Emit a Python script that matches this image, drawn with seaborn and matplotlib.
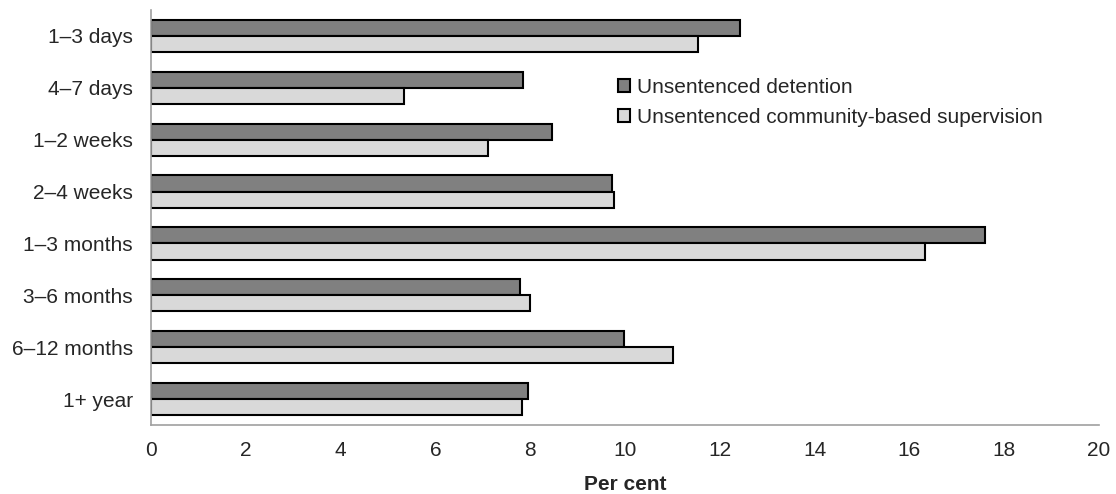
import pandas as pd
import numpy as np
import matplotlib.pyplot as plt
import seaborn as sns

categories = ["1–3 days", "4–7 days", "1–2 weeks", "2–4 weeks",
              "1–3 months", "3–6 months", "6–12 months", "1+ year"]
detention = [12.43, 7.84, 8.47, 9.73, 17.6, 7.78, 9.97, 7.95]
community = [11.54, 5.34, 7.11, 9.77, 16.33, 8.00, 11.02, 7.82]
series = ["Unsentenced detention", "Unsentenced community-based supervision"]

df = pd.DataFrame({
    "Duration": categories * 2,
    "Per cent": detention + community,
    "Group": [series[0]] * len(categories) + [series[1]] * len(categories),
})

sns.set_style("white")
plt.rcParams["font.family"] = ["Liberation Sans", "DejaVu Sans"]

fig = plt.figure(figsize=(11.16, 4.94), dpi=100)
ax = fig.add_axes([151 / 1116, 1 - 425 / 494, 948 / 1116, 415 / 494])

sns.barplot(data=df, y="Duration", x="Per cent", hue="Group", order=categories,
            hue_order=series, palette=["#808080", "#d9d9d9"], width=0.62,
            edgecolor="black", linewidth=1.5, orient="h", ax=ax)

ax.set_xlim(0, 20)
ax.set_ylim(7.5, -0.5)
ax.set_xticks(np.arange(0, 21, 2))
ax.set_xlabel("Per cent", fontsize=15, fontweight="bold", labelpad=11)
ax.set_ylabel("")
ax.tick_params(axis="x", labelsize=15, length=4.5, color="#a0a0a0", direction="out", pad=7)
ax.tick_params(axis="y", labelsize=15, length=0, pad=13)
for s in ["top", "right"]:
    ax.spines[s].set_visible(False)
for s in ["left", "bottom"]:
    ax.spines[s].set_color("#a0a0a0")
    ax.spines[s].set_linewidth(1.2)

ax.legend(loc="upper left", bbox_to_anchor=(0.4926, 0.837), frameon=False,
          fontsize=15, handlelength=0.6, handleheight=0.6, handletextpad=0.3,
          labelspacing=0.55, borderpad=0, borderaxespad=0)

fig.savefig("out.png", dpi=100)
